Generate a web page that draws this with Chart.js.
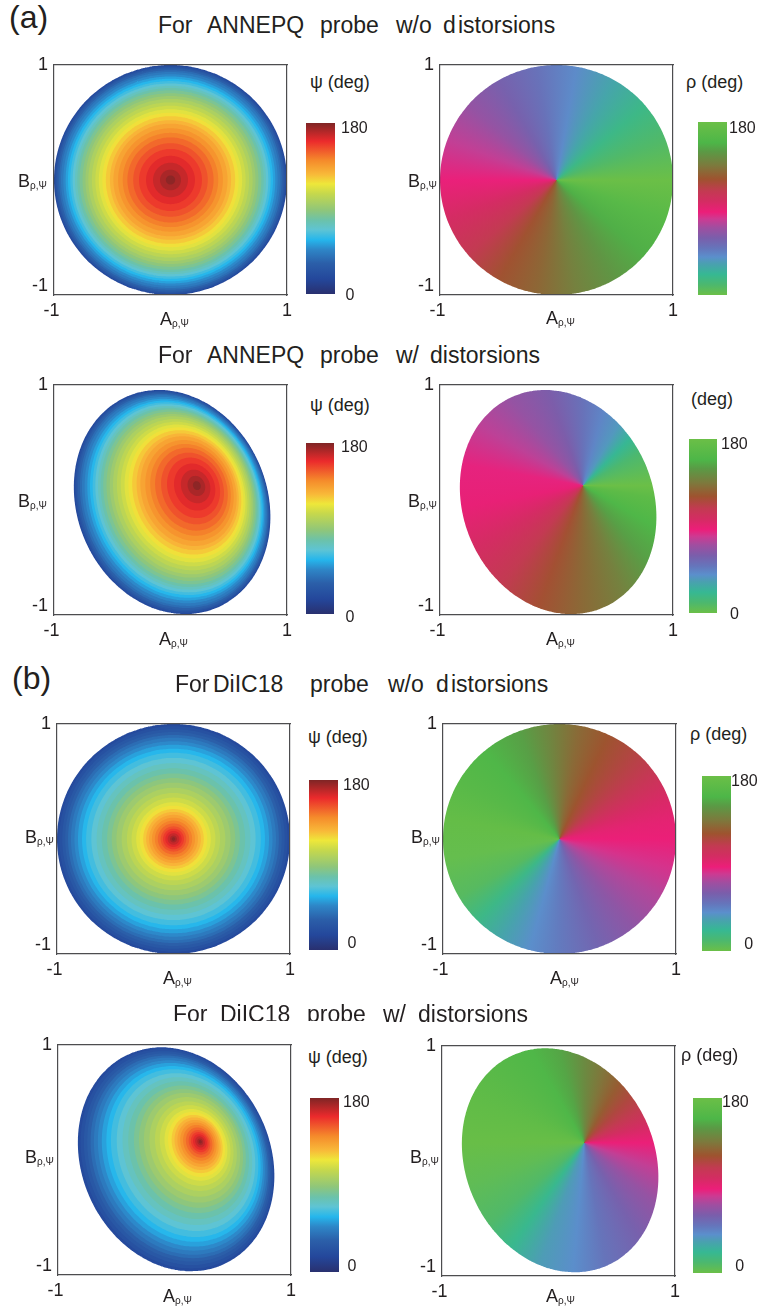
<!DOCTYPE html>
<html lang="en">
<head>
<meta charset="utf-8">
<title>ψ and ρ maps of the (A, B) plane</title>
<script src="https://cdn.jsdelivr.net/npm/chart.js@4.4.1/dist/chart.umd.min.js"></script>
<style>
  html, body { margin: 0; padding: 0; background: #fff; }
  #figure { position: relative; width: 766px; height: 1308px; overflow: hidden;
            font-family: "Liberation Sans", Arial, Helvetica, sans-serif; color: #231f20; }
  #figure canvas { position: absolute; }
  .txt { position: absolute; white-space: pre; line-height: 1; }
  .sub { font-size: 10px; position: relative; top: 2px; }
  .clip { position: absolute; overflow: hidden; }
</style>
</head>
<body>
<div id="figure"></div>
<script>
// ---------------------------------------------------------------- data ----
// ψ contour levels (deg)
const psiLevels = [15, 20, 25, 30, 35, 40, 45, 50, 55, 60, 65, 70, 75, 80, 85, 90, 95,
                   100, 105, 110, 115, 120, 125, 130, 135, 140, 145, 150, 155, 160, 165, 170, 175];
// size of each ψ contour, as a fraction of the outer rim (ψ = 180° sits at 0)
const annepqPsiRadius = [1.00, 0.99, 0.98, 0.97, 0.955, 0.94, 0.92, 0.90, 0.88, 0.86, 0.84,
                         0.82, 0.80, 0.78, 0.755, 0.73, 0.705, 0.675, 0.645, 0.615, 0.585, 0.555,
                         0.52, 0.49, 0.45, 0.41, 0.37, 0.32, 0.27, 0.21, 0.15, 0.09, 0.04];
const diic18PsiRadius = [1.00, 0.98, 0.955, 0.93, 0.905, 0.88, 0.85, 0.82, 0.785, 0.75, 0.705,
                         0.66, 0.615, 0.57, 0.53, 0.49, 0.445, 0.40, 0.36, 0.32, 0.29, 0.26,
                         0.235, 0.21, 0.185, 0.16, 0.135, 0.11, 0.09, 0.07, 0.05, 0.03, 0.015];

// ρ (deg) around the pinwheel point; angles counter-clockwise from the +A direction
const annepqRhoAngle = [0, 20, 40, 60, 80, 100, 120, 140, 160, 180, 200, 220, 240, 260, 280, 300, 320, 340, 360];
const annepqRho      = [0, 9, 18, 30, 41, 50, 58, 67, 77, 86, 97, 108, 120, 128, 138, 147, 156, 166, 180];
const annepqDistRhoAngle = [0, 30, 45, 60, 75, 90, 110, 130, 150, 170, 190, 210, 230, 250, 270, 290, 310, 330, 350, 360];
const annepqDistRho      = [0, 11, 22, 36, 43, 50, 60, 67, 76, 85, 88, 97, 108, 119, 129, 138, 151, 160, 170, 180];
const diic18RhoAngle = [0, 10, 20, 35, 50, 65, 80, 95, 110, 130, 150, 170, 190, 210, 225, 240, 255, 270, 290, 310, 330, 345, 360];
const diic18Rho      = [87, 90, 95, 106, 114, 121, 129, 140, 151, 160, 166, 175, 2, 7, 18, 31, 40, 47, 56, 65, 74, 81, 87];
const diic18DistRhoAngle = [0, 15, 30, 45, 60, 75, 90, 105, 120, 140, 160, 180, 200, 220, 235, 250, 265, 280, 300, 320, 340, 360];
const diic18DistRho      = [87, 97, 108, 115, 124, 133, 142, 153, 160, 166, 173, 178, 4, 9, 20, 34, 40, 49, 58, 67, 77, 87];

// accessible region with distortions: centre, semi-axes, tilt (deg), and ψ = 180° point
const annepqDistCentre = [0.014, -0.018];
const annepqDistSemiAxes = [0.996, 0.818];
const annepqDistTilt = -68.7;
const annepqDistFocus = [0.228, 0.126];
const diic18DistCentre = [0.014, 0.006];
const diic18DistSemiAxes = [1.0, 0.812];
const diic18DistTilt = -67;
const diic18DistFocus = [0.222, 0.159];

const axisTicks = [-1, 1];
const colorbarTicks = [0, 180];

// ------------------------------------------------------------- styling ----
const FONT = '"Liberation Sans", Arial, Helvetica, sans-serif';
const INK = '#231f20';
const FRAME = '#4d4d4f';
const PSI_MAP = [[0, '#29306f'], [0.087, '#24479b'], [0.18, '#2b5fa9'], [0.26, '#2e86c7'],
                 [0.317, '#25b6ec'], [0.375, '#5ec4d4'], [0.43, '#6bc2ab'], [0.49, '#8fc67a'],
                 [0.587, '#c6d84c'], [0.644, '#eee73a'], [0.70, '#f8b939'], [0.78, '#f58b2b'],
                 [0.894, '#eb2a2c'], [1, '#7f2525']];
const RHO_MAP = [[0, '#6bbf47'], [0.06, '#4cb86e'], [0.12, '#36b893'], [0.18, '#4aa0b0'],
                 [0.22, '#5b8fcc'], [0.27, '#6575bb'], [0.33, '#7a5eab'], [0.39, '#a04ea0'],
                 [0.44, '#cd3a92'], [0.48, '#ec1e79'], [0.54, '#d42c63'], [0.60, '#c33a52'],
                 [0.67, '#9e532f'], [0.75, '#7c7a3d'], [0.83, '#5a9a45'], [0.88, '#4db648'],
                 [1, '#6bbf47']];

Chart.defaults.font.family = FONT;
Chart.defaults.color = INK;

const fig = document.getElementById('figure');

function hexToRgb(h) {
  const n = parseInt(h.slice(1), 16);
  return [(n >> 16) & 255, (n >> 8) & 255, n & 255];
}
function sampleMap(map, t) {
  t = Math.min(1, Math.max(0, t));
  for (let i = 1; i < map.length; i++) {
    if (t <= map[i][0]) {
      const [t0, c0] = map[i - 1], [t1, c1] = map[i];
      const f = (t - t0) / (t1 - t0), a = hexToRgb(c0), b = hexToRgb(c1);
      return 'rgb(' + a.map((v, k) => Math.round(v + f * (b[k] - v))).join(',') + ')';
    }
  }
  return map[map.length - 1][1];
}

function makeCanvas(x, y, w, h) {
  const c = document.createElement('canvas');
  c.width = w; c.height = h;
  c.style.left = x + 'px'; c.style.top = y + 'px';
  c.style.width = w + 'px'; c.style.height = h + 'px';
  fig.appendChild(c);
  return c;
}

// positions a line of text by its baseline
function addText(html, x, baseline, size, parent, offsetY) {
  const d = document.createElement('div');
  d.className = 'txt';
  d.style.left = x + 'px';
  d.style.top = (baseline - (offsetY || 0) - 0.847 * size) + 'px';
  d.style.fontSize = size + 'px';
  d.innerHTML = html;
  (parent || fig).appendChild(d);
  return d;
}

// closed outline of one contour: scaled copy of the rim, drifting toward the ψ = 180° point
function contour(geom, s, n = 180) {
  const w = Math.pow(s, 1.5);
  const cx = geom.focus[0] + w * (geom.centre[0] - geom.focus[0]);
  const cy = geom.focus[1] + w * (geom.centre[1] - geom.focus[1]);
  const a = s * geom.semiAxes[0], b = s * geom.semiAxes[1];
  const t = geom.tilt * Math.PI / 180, ct = Math.cos(t), st = Math.sin(t);
  const pts = [];
  for (let i = 0; i <= n; i++) {
    const u = 2 * Math.PI * i / n;
    const ex = a * Math.cos(u), ey = b * Math.sin(u);
    pts.push({ x: cx + ex * ct - ey * st, y: cy + ex * st + ey * ct });
  }
  return pts;
}

const undistorted = { centre: [0, 0], semiAxes: [1, 1], tilt: 0, focus: [0, 0] };
const annepqDist = { centre: annepqDistCentre, semiAxes: annepqDistSemiAxes, tilt: annepqDistTilt, focus: annepqDistFocus };
const diic18Dist = { centre: diic18DistCentre, semiAxes: diic18DistSemiAxes, tilt: diic18DistTilt, focus: diic18DistFocus };

const ringStyle = { fill: 'shape', borderWidth: 0, borderColor: 'rgba(0,0,0,0)', pointRadius: 0, tension: 1e-6 };

function psiDatasets(geom, radii) {
  const step = psiLevels[1] - psiLevels[0];
  return psiLevels.map((lvl, i) => Object.assign({
    data: contour(geom, radii[i]),
    backgroundColor: sampleMap(PSI_MAP, (lvl + step / 2) / 180)
  }, ringStyle)).reverse();   // smallest contour first, so it is painted on top
}

function rhoFill(chart, centre, angles, values) {
  const { x, y } = chart.scales;
  if (!x || !y || !chart.chartArea) return 'rgba(0,0,0,0)';
  const px = x.getPixelForValue(centre[0]), py = y.getPixelForValue(centre[1]);
  const g = chart.ctx.createConicGradient(0, px, py);
  angles.map((a, i) => [(360 - a) / 360, sampleMap(RHO_MAP, values[i] / 180)])
        .sort((p, q) => p[0] - q[0])
        .forEach(([o, c]) => g.addColorStop(o, c));
  return g;
}

function rhoDatasets(geom, angles, values) {
  return [Object.assign({
    data: contour(geom, 1, 240),
    backgroundColor: (c) => rhoFill(c.chart, geom.focus, angles, values)
  }, ringStyle)];
}

function mapChart(box, datasets) {
  const padL = 48, padT = 12, padR = 12, padB = 32, side = 233;
  const cv = makeCanvas(box[0] - padL, box[1] - padT, padL + side + padR, padT + side + padB);
  const frame = { display: true, color: FRAME, width: 1.2, z: 1 };
  const frameAxis = (pos) => ({
    type: 'linear', position: pos, min: -1, max: 1, display: true,
    ticks: { display: false }, grid: { display: false, drawTicks: false }, border: frame,
    afterFit: (s) => { if (s.isHorizontal()) s.height = 0; else s.width = 0; }
  });
  return new Chart(cv, {
    type: 'line',
    data: { datasets },
    options: {
      responsive: false, animation: false, devicePixelRatio: 1, events: [],
      layout: { padding: { left: 0, top: padT, right: padR, bottom: 0 } },
      plugins: { legend: { display: false }, tooltip: { enabled: false } },
      scales: {
        x: {
          type: 'linear', position: 'bottom', min: -1, max: 1,
          afterBuildTicks: (s) => { s.ticks = axisTicks.map((v) => ({ value: v })); },
          afterFit: (s) => { s.height = padB; },
          grid: { display: false, drawTicks: false }, border: frame,
          ticks: { padding: 5, color: INK, autoSkip: false, maxRotation: 0,
                   font: { family: FONT, size: 18 },
                   callback: (v) => (v === -1 ? '-1 ' : String(v)) }
        },
        y: {
          type: 'linear', position: 'left', min: -1, max: 1,
          afterBuildTicks: (s) => { s.ticks = axisTicks.map((v) => ({ value: v })); },
          afterFit: (s) => { s.width = padL; },
          grid: { display: false, drawTicks: false }, border: frame,
          ticks: { padding: 6, color: INK, autoSkip: false,
                   font: { family: FONT, size: 18, lineHeight: 1 },
                   callback: (v) => (v === -1 ? ['-1', ''] : String(v)) }
        },
        x2: frameAxis('top'),
        y2: frameAxis('right')
      }
    }
  });
}

// marks: tick label tweaks for each end of the bar (dy = vertical nudge, indent = spaces)
function colorbar(rect, map, marks, pad) {
  const padT = 14, padB = 14, axisW = 50;
  const cv = makeCanvas(rect[0], rect[1] - padT, rect[2] + axisW, rect[3] + padT + padB);
  const find = (v) => marks.find((m) => m.value === v);
  return new Chart(cv, {
    type: 'bar',
    data: {
      labels: [''],
      datasets: [{
        data: [colorbarTicks[1]],
        borderWidth: 0, barPercentage: 1, categoryPercentage: 1,
        backgroundColor: (c) => {
          const a = c.chart.chartArea;
          if (!a) return 'rgba(0,0,0,0)';
          const g = c.chart.ctx.createLinearGradient(0, a.bottom, 0, a.top);
          map.forEach(([t, col]) => g.addColorStop(t, col));
          return g;
        }
      }]
    },
    options: {
      responsive: false, animation: false, devicePixelRatio: 1, events: [],
      layout: { padding: { left: 0, right: 0, top: padT, bottom: padB } },
      plugins: { legend: { display: false }, tooltip: { enabled: false } },
      scales: {
        x: { display: false },
        y: {
          position: 'right', min: colorbarTicks[0], max: colorbarTicks[1],
          afterBuildTicks: (s) => { s.ticks = marks.map((m) => ({ value: m.value })); },
          afterFit: (s) => { s.width = axisW; },
          grid: { display: false, drawTicks: false }, border: { display: false },
          ticks: {
            padding: pad, color: INK, autoSkip: false,
            font: (c) => {
              const m = c.tick && find(c.tick.value);
              const lh = m && m.dy ? Math.abs(2 * m.dy) : 16;
              return { family: FONT, size: 16, lineHeight: lh + 'px' };
            },
            callback: (v) => {
              const m = find(v);
              const txt = ' '.repeat(m.indent || 0) + String(v);
              if (!m.dy) return txt;
              return m.dy > 0 ? ['', txt] : [txt, ''];
            }
          }
        }
      }
    }
  });
}

// --------------------------------------------------------------- panels ----
const rows = [
  { title: [['For', 158], ['ANNEPQ', 207], ['probe', 320], ['w/o', 396], ['d', 443], ['istorsions', 458]], titleBase: 33,
    left:  { box: [54, 62], sets: psiDatasets(undistorted, annepqPsiRadius),
             bar: [306, 123, 29, 174], map: PSI_MAP, pad: 6,
             marks: [{ value: 180, dy: 5.5 }, { value: 0, dy: 1.5, indent: 1 }],
             head: ['ψ (deg)', 310, 88], A: [160, 325], B: [18, 187] },
    right: { box: [440, 62], sets: rhoDatasets(undistorted, annepqRhoAngle, annepqRho),
             bar: [698, 121, 29, 175], map: RHO_MAP, pad: 2,
             marks: [{ value: 180, dy: 6.5 }],
             head: ['ρ (deg)', 686, 88], A: [546, 324], B: [408, 187] } },
  { title: [['For', 158], ['ANNEPQ', 207], ['probe', 320], ['w/', 396], ['distorsions', 430]], titleBase: 363,
    left:  { box: [54, 382], sets: psiDatasets(annepqDist, annepqPsiRadius),
             bar: [306, 442, 28, 175], map: PSI_MAP, pad: 7,
             marks: [{ value: 180, dy: 5 }, { value: 0, dy: 4, indent: 1 }],
             head: ['ψ (deg)', 310, 411], A: [159, 645], B: [18, 507] },
    right: { box: [440, 382], sets: rhoDatasets(annepqDist, annepqDistRhoAngle, annepqDistRho),
             bar: [689, 439, 28, 175], map: RHO_MAP, pad: 4,
             marks: [{ value: 180, dy: 5.5 }, { value: 0, dy: 2, indent: 2 }],
             head: ['(deg)', 691, 405], A: [546, 645], B: [408, 507] } },
  { title: [['For', 175], ['DiIC18', 213], ['probe', 310], ['w/o', 388], ['d', 436], ['istorsions', 451]], titleBase: 692,
    left:  { box: [57, 721], sets: psiDatasets(undistorted, diic18PsiRadius),
             bar: [309, 777, 29, 175], map: PSI_MAP, pad: 5,
             marks: [{ value: 180, dy: 5.5 }, { value: 0, dy: -6, indent: 1 }],
             head: ['ψ (deg)', 308, 743], A: [163, 984], B: [25, 843] },
    right: { box: [443, 721], sets: rhoDatasets(undistorted, diic18RhoAngle, diic18Rho),
             bar: [702, 776, 29, 175], map: RHO_MAP, pad: 0,
             marks: [{ value: 180, dy: 5.5 }, { value: 0, dy: -6, indent: 3 }],
             head: ['ρ (deg)', 690, 740], A: [550, 984], B: [411, 843] } },
  { title: [['For', 173], ['DiIC18', 220], ['probe', 307], ['w/', 383], ['distorsions', 418]], titleBase: 1022, clipLeft: 1021,
    left:  { box: [58, 1042], sets: psiDatasets(diic18Dist, diic18PsiRadius),
             bar: [310, 1098, 29, 174], map: PSI_MAP, pad: 4,
             marks: [{ value: 180, dy: 4.5 }, { value: 0, dy: -5, indent: 1 }],
             head: ['ψ (deg)', 308, 1063], A: [163, 1302], B: [25, 1163] },
    right: { box: [442, 1043], sets: rhoDatasets(diic18Dist, diic18DistRhoAngle, diic18DistRho),
             bar: [693, 1098, 29, 175], map: RHO_MAP, pad: 0,
             marks: [{ value: 180, dy: 5 }, { value: 0, dy: -6, indent: 3 }],
             head: ['ρ (deg)', 681, 1061], A: [546, 1302], B: [410, 1163] } }
];

const SUB = '<span class="sub">ρ,Ψ</span>';
const TITLE_SIZE = 23;

addText('(a)', 9, 28, 32);
addText('(b)', 12, 689, 32);

rows.forEach((row) => {
  // title words; the first half of the last title is cut along its lower edge
  let holder = null, shift = 0;
  if (row.clipLeft) {
    holder = document.createElement('div');
    holder.className = 'clip';
    holder.style.left = '0px'; holder.style.top = (row.clipLeft - 30) + 'px';
    holder.style.width = '383px'; holder.style.height = '30px';
    fig.appendChild(holder);
    shift = row.clipLeft - 30;
  }
  row.title.forEach(([word, x], i) => {
    const inClip = holder && i < 3;
    addText(word, x, row.titleBase, TITLE_SIZE, inClip ? holder : null, inClip ? shift : 0);
  });

  [row.left, row.right].forEach((p) => {
    mapChart(p.box, p.sets);
    colorbar(p.bar, p.map, p.marks, p.pad);
    addText(p.head[0], p.head[1], p.head[2], 18);
    addText('A' + SUB, p.A[0], p.A[1], 18);
    addText('B' + SUB, p.B[0], p.B[1], 18);
  });
});
</script>
</body>
</html>
